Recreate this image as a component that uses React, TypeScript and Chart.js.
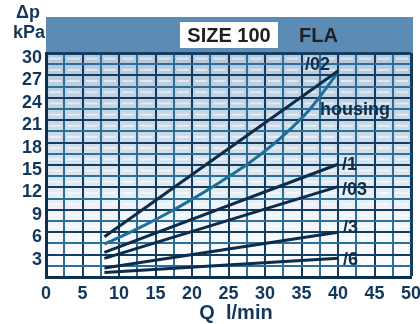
import React, { useEffect, useRef } from 'react';
import { Chart, registerables } from 'chart.js';

Chart.register(...registerables);

// ---- data ----
const flowStraight = [8, 40];
const dp02 = [5.4, 27.6];
const dp1 = [3.3, 15.1];
const dp03 = [2.5, 12.1];
const dp3 = [1.2, 6.0];
const dp6 = [0.6, 2.5];
const flowHousing = [8, 12, 16, 20, 24, 28, 32, 36, 40];
const dpHousing = [4.4, 6.2, 8.2, 10.4, 12.8, 15.4, 18.5, 22.3, 27.4];
const seriesNames = ['/02', 'housing', '/1', '/03', '/3', '/6'];
const xMin = 0, xMax = 50, xStep = 2.5, xLabelEvery = 5;
const yMin = 0, yMax = 30, yStep = 1.5, yLabelEvery = 3;
const titleSize = 'SIZE 100';
const titleModel = 'FLA';
const yUnitTop = 'Δp';
const yUnitBottom = 'kPa';
const xTitle = 'Q  l/min';

// ---- styles / layout ----
const NAVY = '#0c2c4a';
const TEAL = '#1d6f99';
const TEXT = '#12375a';
const FONT = '"Liberation Sans", Arial, sans-serif';
// label offsets (px) from each series' last point
const labelOffsets = [
  [-33, -6],
  [-18, 38],
  [4, 1],
  [4, 3],
  [5, -4],
  [5, 2],
];

const pts = (xs: number[], ys: number[]) => xs.map((x, i) => ({ x, y: ys[i] }));

const isMult = (v: number, m: number) => Math.abs(v / m - Math.round(v / m)) < 1e-6;

const decoPlugin = {
  id: 'deco',
  beforeDraw(chart: any) {
    const { ctx, chartArea: a } = chart;
    ctx.save();
    ctx.fillStyle = '#ffffff';
    ctx.fillRect(0, 0, chart.width, chart.height);
    // header band
    ctx.fillStyle = '#5c8cb6';
    ctx.fillRect(a.left, 17, a.right - a.left + 2, a.top - 17);
    ctx.fillStyle = '#ffffff';
    ctx.fillRect(180, 22, 98, 26);
    ctx.fillStyle = '#1e1e1e';
    ctx.font = `bold 20px ${FONT}`;
    ctx.textBaseline = 'middle';
    ctx.textAlign = 'center';
    ctx.fillText(titleSize, 229, 36);
    ctx.textAlign = 'left';
    ctx.fillStyle = '#222222';
    ctx.fillText(titleModel, 299, 36);
    // axis unit
    ctx.fillStyle = TEXT;
    ctx.font = `bold 18px ${FONT}`;
    ctx.textAlign = 'center';
    ctx.fillText(yUnitTop, 28, 13);
    ctx.fillText(yUnitBottom, 29, 33);
    // plot background
    const g = ctx.createLinearGradient(0, a.top, 0, a.bottom);
    g.addColorStop(0, '#b2c7db');
    g.addColorStop(0.5, '#d6e2ed');
    g.addColorStop(0.72, '#eef3f8');
    g.addColorStop(1, '#ffffff');
    ctx.fillStyle = g;
    ctx.fillRect(a.left, a.top, a.right - a.left, a.bottom - a.top);
    // cell highlights
    const xs = chart.scales.x, ys = chart.scales.y;
    ctx.fillStyle = 'rgba(255,255,255,0.55)';
    for (let xv = xMin; xv < xMax; xv += xStep) {
      const x0 = xs.getPixelForValue(xv), x1 = xs.getPixelForValue(xv + xStep);
      for (let yv = yMin; yv < yMax; yv += yStep) {
        const y0 = ys.getPixelForValue(yv + yStep), y1 = ys.getPixelForValue(yv);
        const h = y1 - y0;
        ctx.fillRect(x0 + 3, y0 + h / 2 - 1, x1 - x0 - 6, 2);
      }
    }
    ctx.restore();
  },
  afterDraw(chart: any) {
    const { ctx } = chart;
    ctx.save();
    ctx.fillStyle = TEXT;
    ctx.font = `bold 20px ${FONT}`;
    ctx.textAlign = 'center';
    ctx.textBaseline = 'middle';
    ctx.fillText(xTitle, 236, 313);
    // series labels
    ctx.font = `bold 18px ${FONT}`;
    ctx.textAlign = 'left';
    ctx.fillStyle = '#0f2c48';
    chart.data.datasets.forEach((ds: any, i: number) => {
      const last = ds.data[ds.data.length - 1];
      const px = chart.scales.x.getPixelForValue(last.x);
      const py = chart.scales.y.getPixelForValue(last.y);
      const [dx, dy] = labelOffsets[i];
      ctx.fillText(seriesNames[i], px + dx, py + dy);
    });
    ctx.restore();
  },
};

export default function App() {
  const ref = useRef<HTMLCanvasElement>(null);
  useEffect(() => {
    if (!ref.current) return;
    const gridColor = (major: number) => (c: any) => {
      const v = c.tick ? c.tick.value : 0;
      return isMult(v, major) ? '#133c5e' : '#2d6f98';
    };
    const gridWidth = (max: number) => (c: any) => {
      const v = c.tick ? c.tick.value : 0;
      return Math.abs(v - max) < 1e-6 ? 3 : 2;
    };
    const chart = new Chart(ref.current, {
      type: 'line',
      data: {
        datasets: [
          { label: seriesNames[0], data: pts(flowStraight, dp02), borderColor: NAVY, borderWidth: 3, pointRadius: 0, tension: 0 },
          { label: seriesNames[1], data: pts(flowHousing, dpHousing), borderColor: TEAL, borderWidth: 3, pointRadius: 0, cubicInterpolationMode: 'monotone' },
          { label: seriesNames[2], data: pts(flowStraight, dp1), borderColor: NAVY, borderWidth: 3, pointRadius: 0, tension: 0 },
          { label: seriesNames[3], data: pts(flowStraight, dp03), borderColor: NAVY, borderWidth: 3, pointRadius: 0, tension: 0 },
          { label: seriesNames[4], data: pts(flowStraight, dp3), borderColor: NAVY, borderWidth: 3, pointRadius: 0, tension: 0 },
          { label: seriesNames[5], data: pts(flowStraight, dp6), borderColor: NAVY, borderWidth: 3, pointRadius: 0, tension: 0 },
        ],
      } as any,
      options: {
        responsive: false,
        animation: false,
        devicePixelRatio: 1,
        layout: { padding: { top: 53, right: 9, left: 0, bottom: 0 } },
        plugins: { legend: { display: false }, tooltip: { enabled: false } },
        scales: {
          x: {
            type: 'linear',
            min: xMin,
            max: xMax,
            afterFit: (s: any) => { s.height = 47; s.paddingLeft = 0; s.paddingRight = 0; },
            ticks: {
              stepSize: xStep,
              autoSkip: false,
              maxRotation: 0,
              padding: 6,
              color: TEXT,
              font: { family: FONT, weight: 'bold', size: 18 },
              callback: (v: any) => (isMult(Number(v), xLabelEvery) ? String(v) : ''),
            },
            grid: { color: gridColor(xLabelEvery), lineWidth: gridWidth(xMax), drawTicks: false },
            border: { display: true, color: '#0f2f4d', width: 3 },
          },
          y: {
            type: 'linear',
            min: yMin,
            max: yMax,
            afterFit: (s: any) => { s.width = 46; s.paddingTop = 0; s.paddingBottom = 0; },
            ticks: {
              stepSize: yStep,
              autoSkip: false,
              padding: 4,
              labelOffset: 5,
              color: TEXT,
              font: { family: FONT, weight: 'bold', size: 18 },
              callback: (v: any) => {
                const n = Number(v);
                return n > 0 && isMult(n, yLabelEvery) ? String(v) : '';
              },
            },
            grid: { color: gridColor(yLabelEvery), lineWidth: gridWidth(yMax), drawTicks: false },
            border: { display: true, color: '#0f2f4d', width: 3 },
          },
        },
      } as any,
      plugins: [decoPlugin],
    });
    return () => chart.destroy();
  }, []);
  return (
    <div style={{ position: 'fixed', left: 0, top: 0, width: 420, height: 324, background: '#fff' }}>
      <canvas ref={ref} width={420} height={324} style={{ display: 'block' }} />
    </div>
  );
}
